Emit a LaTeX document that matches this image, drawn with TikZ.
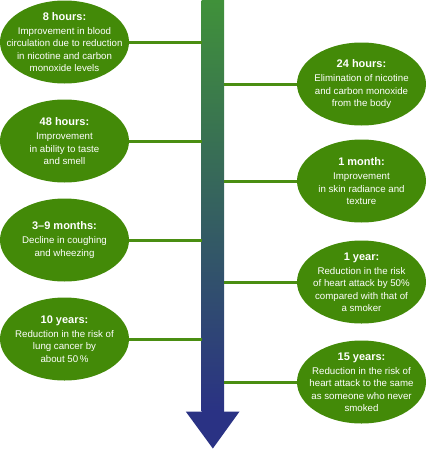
\documentclass[tikz,border=0pt]{standalone}
\usepackage{fontspec}
\setmainfont{Liberation Sans}
\usetikzlibrary{shapes.geometric,positioning,calc}
\definecolor{evtgreen}{RGB}{67,138,8}
\definecolor{linkgreen}{RGB}{74,142,18}
\definecolor{arrtop}{RGB}{64,145,58}
\definecolor{arrmid}{RGB}{44,104,106}
\definecolor{arrbot}{RGB}{42,50,132}
\tikzset{
  evt/.style={ellipse, fill=evtgreen, minimum width=129pt, minimum height=83pt, inner sep=0pt},
  evttext/.style={text=white, align=center, inner sep=0pt, font=\fontsize{9.7}{12.3}\selectfont},
  link/.style={draw=linkgreen, line width=3pt},
  shaftbox/.style={minimum width=22.3pt, minimum height=411pt, inner sep=0pt,
    top color=arrtop, middle color=arrmid, bottom color=arrbot},
}
\newcommand{\evthead}[1]{{\fontsize{11}{13}\selectfont\bfseries #1}\\[2pt]}

\begin{document}
\begin{tikzpicture}[x=1pt,y=-1pt]
    \useasboundingbox (0,0) rectangle (426,450);
    \node[shaftbox] (shaft) at (212.85,206.2) {};
    \fill[arrbot] ($(shaft.south west)+(-15.7,-0.3)$) -- ($(shaft.south east)+(15.3,-0.3)$)
      -- ($(shaft.south)+(0,36.6)$) -- cycle;

    \node[evt] (h8) at (64.5,42) {};
    \node[evttext] (h8t) at (h8) {\evthead{8 hours:}Improvement in blood\\circulation due to reduction\\in nicotine and carbon\\monoxide levels};
    \node[evt] (h24) at (361.5,84) {};
    \node[evttext] (h24t) at (h24) {\evthead{24 hours:}Elimination of nicotine\\and carbon monoxide\\from the body};
    \node[evt] (h48) at (64.5,141) {};
    \node[evttext] (h48t) at (h48) {\evthead{48 hours:}Improvement\\in ability to taste\\and smell};
    \node[evt] (m1) at (361.5,181) {};
    \node[evttext] (m1t) at (m1) {\evthead{1 month:}Improvement\\in skin radiance and\\texture};
    \node[evt] (m39) at (64.5,240) {};
    \node[evttext] (m39t) at (m39) {\evthead{3--9 months:}Decline in coughing\\and wheezing};
    \node[evt] (y1) at (361.5,282) {};
    \node[evttext] (y1t) at (y1) {\evthead{1 year:}Reduction in the risk\\of heart attack by 50\%\\compared with that of\\a smoker};
    \node[evt] (y10) at (64.5,339) {};
    \node[evttext] (y10t) at (y10) {\evthead{10 years:}Reduction in the risk of\\lung cancer by\\about 50\,\%};
    \node[evt] (y15) at (361.5,382) {};
    \node[evttext] (y15t) at (y15) {\evthead{15 years:}Reduction in the risk of\\heart attack to the same\\as someone who never\\smoked};

    \foreach \ev in {h8,h48,m39,y10}
      \draw[link] (\ev.east) -- (\ev.east -| shaft.west);
    \foreach \ev in {h24,m1,y1,y15}
      \draw[link] (\ev.west) -- (\ev.west -| shaft.east);
\end{tikzpicture}
\end{document}
